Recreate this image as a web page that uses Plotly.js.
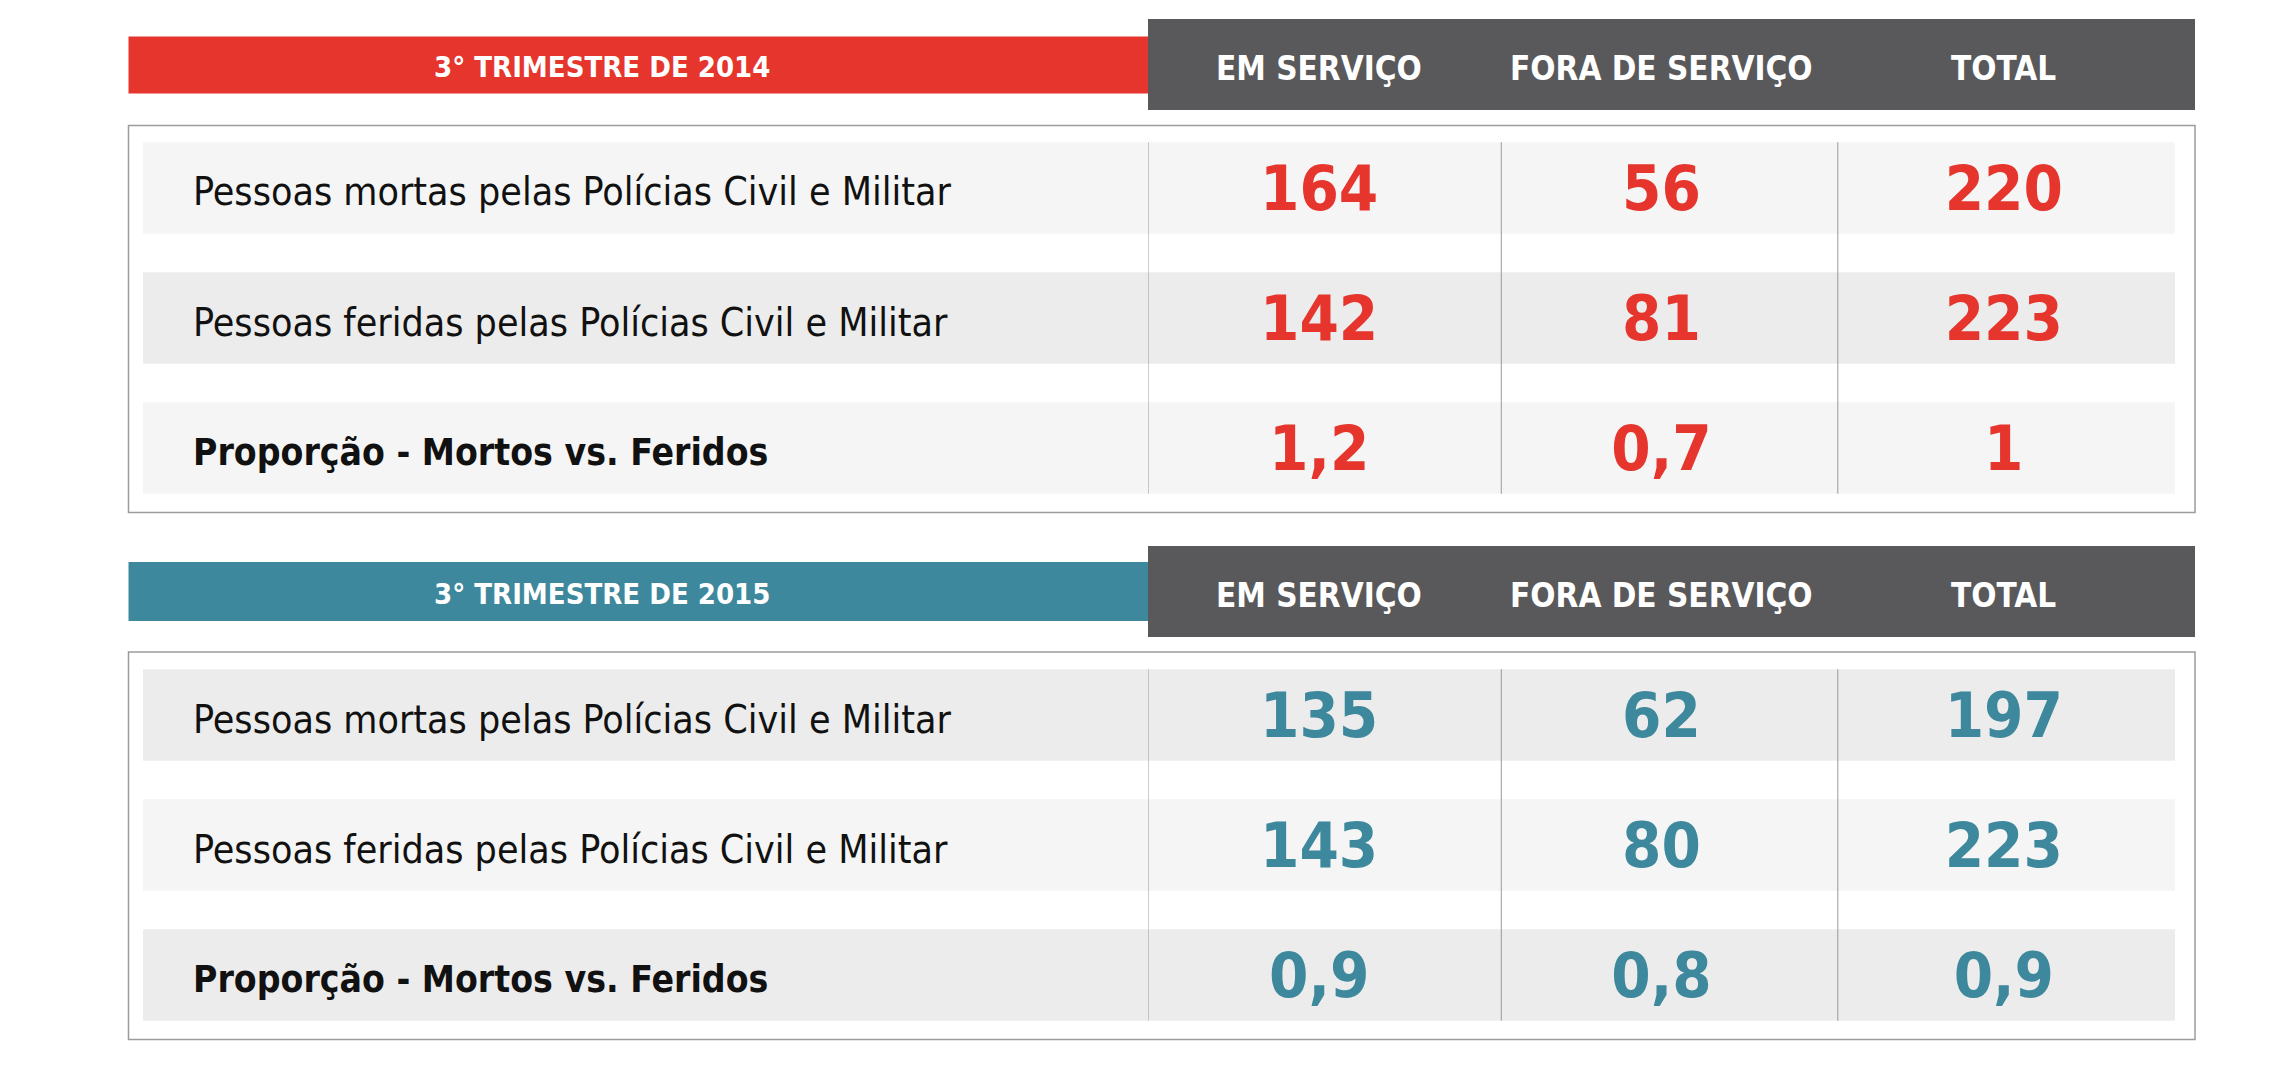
<!DOCTYPE html>
<html>
<head>
<meta charset="utf-8">
<script src="https://cdn.plot.ly/plotly-3.0.1.min.js"></script>
<style>html,body{margin:0;padding:0;background:#fff;}</style>
</head>
<body>
<div id="chart" style="width:2290px;height:1066px;"></div>
<script>
// ---- data ----
const columns = ['EM SERVIÇO', 'FORA DE SERVIÇO', 'TOTAL'];
const rowLabels = [
  'Pessoas mortas pelas Polícias Civil e Militar',
  'Pessoas feridas pelas Polícias Civil e Militar',
  'Proporção - Mortos vs. Feridos'
];
const title2014 = '3° TRIMESTRE DE 2014';
const title2015 = '3° TRIMESTRE DE 2015';
const emServico2014 = [164, 142, 1.2];
const foraServico2014 = [56, 81, 0.7];
const total2014 = [220, 223, 1];
const emServico2015 = [135, 143, 0.9];
const foraServico2015 = [62, 80, 0.8];
const total2015 = [197, 223, 0.9];

// ---- layout helpers ----
const W = 2290, H = 1066;
const px = v => v / W;
const py = v => 1 - v / H;
const RED = '#E5352D', TEAL = '#3D889C', GRAY = '#59595B';
const NARROW = '"DejaVu Sans Condensed", "Liberation Sans Narrow", sans-serif';
const fmt = v => String(v).replace('.', ',');
const SHIFT = 6;            // px the value axis is moved down
const OFF = SHIFT / 130;    // same shift in row units

function cellTrace(cols, color, xa, ya) {
  const x = [], y = [], text = [];
  cols.forEach((vals, c) => {
    vals.forEach((v, r) => { x.push(columns[c]); y.push(rowLabels[r]); text.push(fmt(v)); });
  });
  return {
    type: 'scatter', mode: 'text', x: x, y: y, text: text, xaxis: xa, yaxis: ya,
    textposition: 'middle center', hoverinfo: 'skip', showlegend: false,
    textfont: {family: NARROW, size: 63, color: color, weight: 'bold'}
  };
}

const traces = [
  cellTrace([emServico2014, foraServico2014, total2014], RED, 'x', 'y'),
  cellTrace([emServico2015, foraServico2015, total2015], TEAL, 'x2', 'y2')
];

const shapes = [], annotations = [];
const tables = [
  {title: title2014, color: RED, xref: 'x', yref: 'y', grayTop: 19, grayBot: 110, banTop: 36.5, banBot: 93.5, boxTop: 125.5, boxBot: 512.5, stripes: ['#F5F5F5', '#ECECEC', '#F5F5F5']},
  {title: title2015, color: TEAL, xref: 'x2', yref: 'y2', grayTop: 546, grayBot: 637, banTop: 562, banBot: 621, boxTop: 652, boxBot: 1039.5, stripes: ['#ECECEC', '#F5F5F5', '#ECECEC']}
];

tables.forEach(t => {
  // header blocks
  shapes.push({type: 'rect', xref: 'paper', yref: 'paper', x0: px(1148), x1: px(2195), y0: py(t.grayBot), y1: py(t.grayTop), fillcolor: GRAY, line: {width: 0}, layer: 'below'});
  shapes.push({type: 'rect', xref: 'paper', yref: 'paper', x0: px(128.5), x1: px(1148), y0: py(t.banBot), y1: py(t.banTop), fillcolor: t.color, line: {width: 0}, layer: 'below'});
  // outer box
  shapes.push({type: 'rect', xref: 'paper', yref: 'paper', x0: px(128.5), x1: px(2195), y0: py(t.boxBot), y1: py(t.boxTop), fillcolor: 'rgba(0,0,0,0)', line: {width: 1.5, color: '#9C9C9C'}, layer: 'below'});
  // row stripes
  rowLabels.forEach((lab, r) => {
    shapes.push({type: 'rect', xref: 'paper', yref: t.yref, x0: px(143), x1: px(2175), y0: r - 0.352 - OFF, y1: r + 0.352 - OFF, fillcolor: t.stripes[r], line: {width: 0}, layer: 'below'});
    annotations.push({xref: 'paper', yref: t.yref, x: px(191), y: lab, xanchor: 'left', yanchor: 'middle', yshift: SHIFT - 4,
      text: r === 2 ? '<b>' + lab + '</b>' : lab, showarrow: false,
      font: {family: NARROW, size: r === 2 ? 37 : 39, color: '#111111'}});
  });
  // column dividers
  [-0.5, 0.532, 1.515].forEach(xv => {
    shapes.push({type: 'line', xref: t.xref, yref: t.yref, x0: xv, x1: xv, y0: -0.352 - OFF, y1: 2.352 - OFF, line: {width: 1, color: '#9A9A9A'}, layer: 'below'});
  });
  // column headers
  columns.forEach(c => {
    annotations.push({xref: t.xref, yref: 'paper', x: c, y: py((t.grayTop + t.grayBot) / 2 + 4), xanchor: 'center', yanchor: 'middle',
      text: '<b>' + c + '</b>', showarrow: false, font: {family: NARROW, size: 33, color: '#FFFFFF'}});
  });
  // banner title
  annotations.push({xref: 'paper', yref: 'paper', x: px(602), y: py((t.banTop + t.banBot) / 2 + 2), xanchor: 'center', yanchor: 'middle',
    text: '<b>' + t.title + '</b>', showarrow: false, font: {family: NARROW, size: 29, color: '#FFFFFF'}});
});

const axX = dom => ({domain: dom, type: 'category', categoryorder: 'array', categoryarray: columns, range: [-0.5, 2.5],
  showgrid: false, zeroline: false, showline: false, showticklabels: false, ticks: '', fixedrange: true});
const axY = dom => ({domain: dom, type: 'category', categoryorder: 'array', categoryarray: rowLabels, range: [2.5, -0.5],
  showgrid: false, zeroline: false, showline: false, showticklabels: false, ticks: '', fixedrange: true});

const layout = {
  width: W, height: H,
  margin: {l: 0, r: 0, t: 0, b: 0, pad: 0},
  paper_bgcolor: '#FFFFFF', plot_bgcolor: 'rgba(0,0,0,0)',
  showlegend: false,
  xaxis: axX([px(1148), px(2175)]),
  yaxis: Object.assign(axY([py(513 + SHIFT), py(123 + SHIFT)]), {anchor: 'x'}),
  xaxis2: Object.assign(axX([px(1148), px(2175)]), {anchor: 'y2'}),
  yaxis2: Object.assign(axY([py(1040 + SHIFT), py(650 + SHIFT)]), {anchor: 'x2'}),
  shapes: shapes,
  annotations: annotations
};

Plotly.newPlot('chart', traces, layout, {displayModeBar: false, staticPlot: true});
</script>
</body>
</html>
